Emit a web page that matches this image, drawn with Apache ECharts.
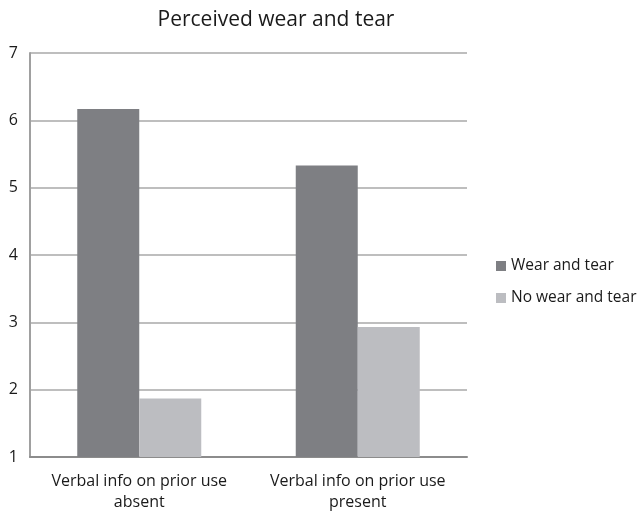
<!doctype html>
<html lang="en">
<head>
<meta charset="UTF-8">
<title>Perceived wear and tear</title>
<script src="https://cdn.jsdelivr.net/npm/echarts@6/dist/echarts.min.js"></script>
<style>
  html, body { margin: 0; padding: 0; background: #fff; }
  #main { width: 641px; height: 514px; }
</style>
</head>
<body>
<div id="main"></div>
<script>
// chart data
var categories = ['Verbal info on prior use\nabsent', 'Verbal info on prior use\npresent'];
var wearValues = [6.17, 5.33];
var noWearValues = [1.87, 2.93];
var yTicks = [1, 2, 3, 4, 5, 6, 7];

var font = '"Open Sans", "Noto Sans", sans-serif';
var chart = echarts.init(document.getElementById('main'));

var option = {
    animation: false,
    backgroundColor: '#fff',
    title: {
        text: 'Perceived wear and tear',
        left: 271,
        textAlign: 'center',
        top: 5,
        textStyle: { fontFamily: font, fontSize: 21, fontWeight: 'normal', color: '#1a1a1a' }
    },
    legend: {
        orient: 'vertical',
        left: 491,
        top: 253,
        itemWidth: 10,
        itemHeight: 10,
        itemGap: 16,
        icon: 'rect',
        textStyle: { fontFamily: font, fontSize: 15.5, color: '#1a1a1a' },
        data: ['Wear and tear', 'No wear and tear']
    },
    grid: { left: 30, top: 53, width: 437, height: 404 },
    xAxis: {
        type: 'category',
        data: categories,
        axisTick: { show: false },
        axisLine: { lineStyle: { color: '#8c8c8c', width: 2 } },
        axisLabel: { interval: 0, fontFamily: font, fontSize: 16, color: '#1a1a1a', lineHeight: 21, margin: 14 }
    },
    yAxis: {
        type: 'value',
        min: yTicks[0],
        max: yTicks[yTicks.length - 1],
        interval: 1,
        axisLine: { show: true, lineStyle: { color: '#a0a0a0', width: 2 } },
        axisTick: { show: false },
        splitLine: { lineStyle: { color: '#a8a8a8', width: 1.5 } },
        axisLabel: { fontFamily: font, fontSize: 16, color: '#1a1a1a', margin: 12 }
    },
    series: [
        {
            name: 'Wear and tear',
            type: 'bar',
            data: wearValues,
            barWidth: 62,
            barGap: '0%',
            itemStyle: { color: '#7e7f83' }
        },
        {
            name: 'No wear and tear',
            type: 'bar',
            data: noWearValues,
            barWidth: 62,
            itemStyle: { color: '#bcbdc1' }
        }
    ]
};

chart.setOption(option);
</script>
</body>
</html>
